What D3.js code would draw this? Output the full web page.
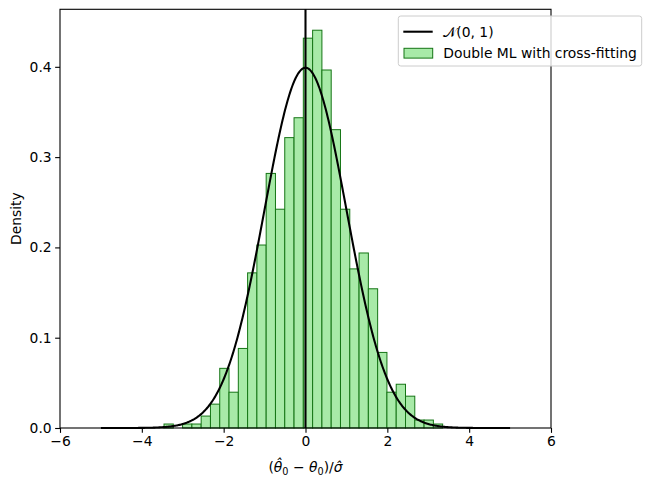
<!DOCTYPE html>
<html><head><meta charset="utf-8">
<script src="https://cdn.jsdelivr.net/npm/d3@7"></script>
<style>
body{margin:0;background:#fff}
svg{display:block}
text{font-family:"DejaVu Sans",sans-serif;font-size:13.89px;fill:#000}
</style>
</head><body>
<svg id="c" width="651" height="491"></svg>
<script>
// ---- data ----
const binStart = -3.458;
const binWidth = 0.227;
const binCounts = [1,0,1,1,3,6,15,9,20,39,46,64,55,73,78,98,100,90,75,55,40,44,35,19,9,11,8,2,2,1];
const sampleSize = 1000;
const xTicks = [-6,-4,-2,0,2,4,6];
const yTicks = [0,0.1,0.2,0.3,0.4];
const xLimits = [-6,6];
const yLimits = [0,0.4637];
const curveRange = [-5,5];
const legendLabels = ["𝒩(0, 1)", "Double ML with cross-fitting"];

// ---- layout ----
const svg = d3.select("#c");
const L = 60, R = 551, T = 9.3, B = 428;
const x = d3.scaleLinear().domain(xLimits).range([L, R]);
const y = d3.scaleLinear().domain(yLimits).range([B, T]);
const fillCol = "#a8eaa8", edgeCol = "#157515";

const bins = binCounts.map((c,i)=>({
  x0: binStart + i*binWidth,
  x1: binStart + (i+1)*binWidth,
  d: c/(sampleSize*binWidth)
}));

// bars
svg.append("g").selectAll("rect").data(bins.filter(b=>b.d>0)).join("rect")
  .attr("x", d=>x(d.x0)).attr("width", d=>x(d.x1)-x(d.x0))
  .attr("y", d=>y(d.d)).attr("height", d=>y(0)-y(d.d))
  .attr("fill", fillCol).attr("stroke", edgeCol).attr("stroke-width", 1);

// normal pdf curve
const xs = d3.range(curveRange[0], curveRange[1]+1e-9, 0.02);
const pdf = v => Math.exp(-v*v/2)/Math.sqrt(2*Math.PI);
svg.append("path").datum(xs)
  .attr("d", d3.line().x(d=>x(d)).y(d=>y(pdf(d))))
  .attr("fill","none").attr("stroke","#000").attr("stroke-width",2.08);

// vertical line at 0
svg.append("line").attr("x1",x(0)).attr("x2",x(0)).attr("y1",T).attr("y2",B)
  .attr("stroke","#000").attr("stroke-width",2.08);

// spines
svg.append("rect").attr("x",L).attr("y",T).attr("width",R-L).attr("height",B-T)
  .attr("fill","none").attr("stroke","#000").attr("stroke-width",1.1);

// x axis
const xAxis = d3.axisBottom(x).tickValues(xTicks).tickSize(4.86).tickPadding(3.5)
  .tickFormat(d=>d3.format("d")(d).replace("-","\u2212"));
const gx = svg.append("g").attr("transform",`translate(0,${B})`).call(xAxis);
gx.select(".domain").remove();
gx.selectAll("line").attr("stroke","#000").attr("stroke-width",1.1);
gx.selectAll("text").style("font-family","DejaVu Sans").style("font-size","13.89px").attr("fill","#000");

// y axis
const yAxis = d3.axisLeft(y).tickValues(yTicks).tickSize(4.86).tickPadding(3.5)
  .tickFormat(d3.format(".1f"));
const gy = svg.append("g").attr("transform",`translate(${L},0)`).call(yAxis);
gy.select(".domain").remove();
gy.selectAll("line").attr("stroke","#000").attr("stroke-width",1.1);
gy.selectAll("text").style("font-family","DejaVu Sans").style("font-size","13.89px").attr("fill","#000");

// axis labels
svg.append("text").attr("transform",`translate(21,${(T+B)/2}) rotate(-90)`)
  .attr("text-anchor","middle").text("Density");

const xl = svg.append("text").attr("x",(L+R)/2).attr("y",472).attr("text-anchor","middle");
xl.append("tspan").text("(");
xl.append("tspan").attr("font-style","italic").text("\u03B8\u0302");
xl.append("tspan").attr("font-size","9.7px").attr("dy",2.5).text("0");
xl.append("tspan").attr("dy",-2.5).text(" \u2212 ");
xl.append("tspan").attr("font-style","italic").text("\u03B8");
xl.append("tspan").attr("font-size","9.7px").attr("dy",2.5).text("0");
xl.append("tspan").attr("dy",-2.5).text(")/");
xl.append("tspan").attr("font-style","italic").text("\u03C3\u0302");

// legend
const lg = svg.append("g");
lg.append("rect").attr("x",398.3).attr("y",16).attr("width",243.4).attr("height",50)
  .attr("rx",2.5).attr("fill","#fff").attr("fill-opacity",0.8)
  .attr("stroke","#cccccc").attr("stroke-width",1);
lg.append("line").attr("x1",403.3).attr("x2",432.7).attr("y1",31.7).attr("y2",31.7)
  .attr("stroke","#000").attr("stroke-width",2.08);
lg.append("text").attr("x",443.3).attr("y",31.7).attr("dy","0.35em").text(legendLabels[0]);
lg.append("rect").attr("x",404).attr("y",48.3).attr("width",28.7).attr("height",9.8)
  .attr("fill",fillCol).attr("stroke",edgeCol).attr("stroke-width",1);
lg.append("text").attr("x",443.3).attr("y",53.2).attr("dy","0.35em").text(legendLabels[1]);
</script>
</body></html>
